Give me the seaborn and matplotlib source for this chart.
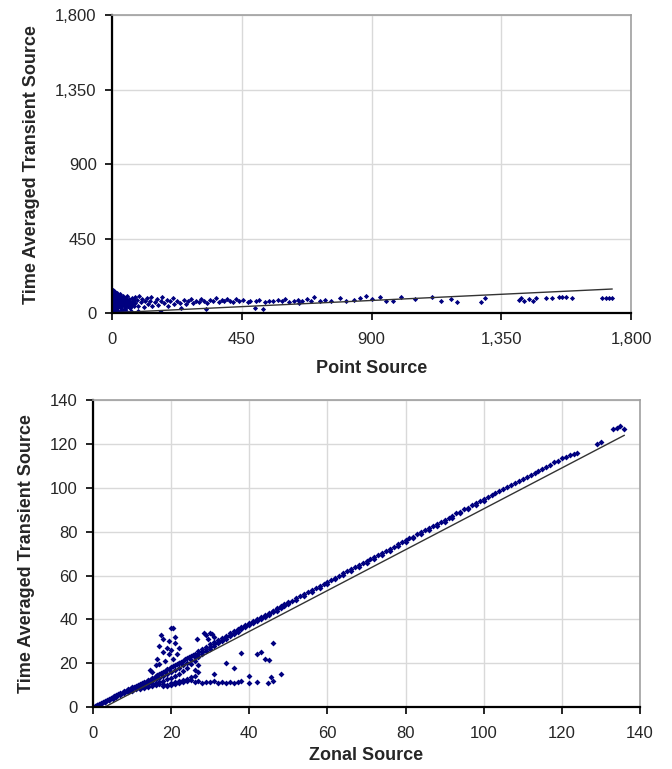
import numpy as np
import seaborn as sns
import matplotlib
matplotlib.use("Agg")
import matplotlib.pyplot as plt
import pandas as pd
from matplotlib.ticker import FuncFormatter

# ---------------- top panel: point source vs time averaged transient ----------------
point_x = [2, 3, 3, 4, 4, 5, 5, 6, 6, 7, 8, 8, 9, 10, 10, 11, 12, 12, 14, 15, 16, 18, 18, 20,
           22, 22, 24, 25, 27, 28, 30, 32, 33, 35, 36, 38, 40, 42, 44, 45, 48, 50, 52, 55, 57,
           60, 62, 65, 68, 70, 72, 75, 78, 80, 1, 6, 14, 26, 38, 52, 66,
           1, 1, 2, 2, 3, 4, 5, 6, 7, 9, 11, 13, 15, 17, 19, 21, 23, 26, 29, 31, 34, 37, 41,
           46, 49, 53, 58, 63, 67, 73, 77, 0, 1, 10, 20, 30, 40, 50, 90,
           85, 90, 95, 100, 105, 110, 115, 120, 125, 130, 135, 140, 150, 155, 160, 165, 170,
           170, 175, 180, 190, 195, 200, 210, 215, 225, 235, 240, 250, 255, 265, 275, 280,
           290, 300, 310, 320, 327, 330, 340, 350, 360, 370, 380, 390, 400,
           410, 420, 430, 440, 455, 470, 480, 495, 500, 510, 523, 530, 545, 560, 575, 590,
           600, 615, 630, 645, 650, 660, 675, 690, 700, 720, 740, 760, 790, 810, 840, 860,
           880, 900, 928, 950, 973, 1003,
           1050, 1111, 1142, 1177, 1197, 1280, 1294, 1412, 1420, 1430, 1445, 1460, 1471,
           1506, 1526, 1551, 1562, 1575, 1597, 1701, 1712, 1725, 1735]
point_y = [5, 20, 60, 100, 138, 120, 80, 40, 130, 110, 90, 20, 60, 125, 45, 100, 75, 15, 110, 55,
           90, 30, 120, 70, 100, 10, 50, 85, 115, 35, 65, 95, 20, 50, 80, 105, 40, 70, 90, 25,
           55, 80, 100, 45, 65, 85, 30, 60, 90, 50, 75, 40, 95, 60, 2, 8, 5, 6, 8, 4, 10,
           30, 70, 110, 50, 90, 10, 30, 70, 95, 35, 55, 85, 30, 65, 95, 40, 75, 60, 90, 30,
           70, 55, 85, 65, 35, 75, 55, 70, 40, 60, 80, 0, 10, 5, 3, 8, 10, 5, 10,
           80, 45, 100, 65, 85, 35, 70, 90, 55, 75, 95, 40, 65, 85, 50, 6, 75, 8, 95, 60,
           80, 45, 70, 90, 55, 75, 60, 30, 80, 55, 70, 85, 60, 75, 65, 85, 70, 24, 60, 80,
           70, 90, 65, 80, 70, 85,
           75, 65, 85, 70, 80, 65, 75, 30, 70, 80, 24, 65, 75, 70, 80, 70, 85, 65, 75, 80,
           60, 70, 85, 75, 95, 70, 80, 75, 90, 75, 80, 90, 105, 85, 97, 75, 72, 97,
           85, 97, 72, 85, 66, 66, 90, 80, 90, 75, 85, 70, 90, 88, 90, 97, 95, 97, 90, 90,
           92, 90, 88]
point_fit_x = [0, 1735]
point_fit_y = [1, 145]
point_ticks = [0, 450, 900, 1350, 1800]

# ---------------- bottom panel: zonal source vs time averaged transient ----------------
band_x = [0.5, 1, 1.5, 2, 2.5, 3, 3, 3.5, 4, 4, 4.5, 5, 5, 5.5, 6, 6, 6.5, 7, 7, 7.5, 8, 8,
          8.5, 9, 9, 9.5, 10, 10, 10.5, 11, 11, 11.5, 12, 12, 12.5, 13, 13, 13.5, 14, 14, 14.5,
          15, 15, 15.5, 16, 16, 16.5, 17, 17, 17.5, 18, 18, 18, 18.5, 19, 19, 19, 19.5, 20, 20,
          20, 20.5, 21, 21, 21, 21.5, 22, 22, 22, 22.5, 23, 23, 23, 23.5, 24, 24, 24, 24.5,
          25, 25, 25, 25.5, 26, 26, 27, 27, 28, 28, 29, 29, 30, 30, 31, 31, 32, 32, 33, 33,
          34, 34, 35, 35, 36, 36, 37, 37, 38, 38, 39, 39, 40, 40, 41, 41, 42, 42, 43, 43,
          44, 44, 45, 45, 46, 46, 47, 47, 48, 48, 49, 49, 50, 50, 52, 52, 54, 54, 56, 56,
          58, 58, 60, 60, 62, 62, 64, 64, 66, 66, 68, 68, 70, 70, 72, 72, 74, 74, 76, 76,
          78, 78, 80, 80, 82, 82, 84, 84, 86, 86, 88, 88, 90, 90, 92, 92, 94, 94, 96, 96,
          98, 98, 100, 100, 102, 103, 105, 106, 108, 110, 111, 113, 115, 117, 119, 120, 121,
          122, 124, 129, 134, 135, 136]
band_y = [0.5, 1, 1.2, 1.8, 2.2, 2.8, 2.2, 3.3, 3.5, 3, 4, 4.5, 3.8, 5, 5.4, 4.6, 5.8, 6.2,
          5.4, 6.6, 7.2, 6.2, 7.5, 8, 6.8, 8.4, 9, 7.4, 9.3, 9.8, 8, 10, 10.5, 8.6, 10.8, 11.4,
          9.2, 11.6, 12.2, 9.8, 12.5, 13.2, 10.4, 13.4, 14.2, 11, 14.5, 15.2, 11.5, 15.5, 16.2,
          12, 10.5, 16.5, 17.2, 12.6, 10.2, 17.5, 18.2, 13.4, 11, 18.6, 19.2, 14.2, 11.2, 19.6,
          20.2, 15, 12, 20.6, 21.2, 16.5, 12.5, 21.8, 22.2, 18, 13, 22.8, 23.3, 19.5, 13.5,
          23.8, 24.4, 21, 25.5, 22.6, 26.6, 24, 27.6, 25.4, 28.6, 26.6, 29.6, 27.8, 30.6, 29,
          31.6, 30, 32.6, 31.2, 33.6, 32.3, 34.6, 33.4, 35.6, 34.4, 36.5, 35.4, 37.4, 36.4,
          38.4, 37.3, 39.3, 38.3, 40.2, 39.3, 41.2, 40.3, 42.1, 41.2, 43, 42.2, 44, 43.2, 45,
          44, 46, 45, 47, 46, 47.8, 46.9, 49.6, 48.8, 51.5, 50.6, 53.4, 52.5, 55.3, 54.4, 57.2,
          56.3, 59, 58.2, 61, 60.1, 62.8, 62, 64.8, 63.9, 66.6, 65.8, 68.5, 67.6, 70.4, 69.5,
          72.3, 71.4, 74.2, 73.3, 76, 75.2, 77.8, 77, 79.8, 79, 81.6, 80.8, 83.5, 82.7, 85.4,
          84.6, 87.3, 86.4, 89.2, 88.3, 91, 90.2, 93, 92, 94.8, 94, 96.6, 97.6, 99.4, 100.3,
          102.2, 104, 105, 106.8, 108.6, 110.6, 112.4, 113.4, 114, 115, 115.8, 120, 127.5,
          128, 127]
band_mid_x = [1, 2, 3, 4, 5, 6, 7, 8, 9, 10, 11, 12, 13, 14, 15, 16, 17, 18, 19, 20, 21, 22,
              23, 24, 25, 26, 27, 28, 29, 30, 31, 32, 33, 34, 35, 36, 37, 38, 39, 40, 41, 42,
              43, 44, 45, 46, 47, 48, 49, 50, 51, 53, 55, 57, 59, 61, 63, 65, 67, 69, 71, 73,
              75, 77, 79, 81, 83, 85, 87, 89, 91, 93, 95, 97, 99, 101, 104, 107, 109, 112,
              114, 116, 118, 123, 130, 133,
              12, 13, 14, 15, 16, 17, 18, 19, 20, 21, 22, 23, 24, 25, 26, 26, 27, 27]
band_mid_y = [0.8, 1.6, 2.5, 3.3, 4.1, 5, 5.8, 6.7, 7.5, 8.2, 9, 9.6, 10.4, 11, 11.8, 12.6,
              13.4, 14.2, 15, 16, 17, 17.8, 19, 20.2, 21.4, 22.8, 24, 25.3, 26.5, 27.6, 28.7,
              29.8, 30.8, 31.9, 33, 34, 35, 36, 36.9, 37.8, 38.8, 39.7, 40.7, 41.6, 42.6, 43.6,
              44.5, 45.5, 46.5, 47.4, 48.6, 50.5, 52.4, 54.3, 56.2, 58.1, 60, 61.9, 63.8,
              65.7, 67.5, 69.4, 71.3, 73.2, 75.1, 77, 78.9, 80.7, 82.6, 84.5, 86.4, 88.3,
              90.2, 92.1, 94, 95.8, 98.6, 101.3, 103.2, 106, 107.8, 109.6, 111.6, 115.4, 121,
              127,
              8, 8.6, 9.2, 9.6, 10, 10.4, 9.8, 9.6, 10, 10.3, 10.8, 11.4, 11.8, 12.5, 14, 17,
              19, 16]
stray_x = [16.5, 17, 17.5, 18, 18, 18.5, 19, 19.5, 19.5, 20, 20.5, 20, 20.5, 21, 21, 21.5,
           22, 22, 16, 17, 15, 14.5,
           26.5, 28.5, 29, 29.5, 30, 30.5, 31,
           26, 27, 28, 29, 30, 31, 32, 33, 34, 35, 36, 37, 38, 40, 42, 44.8,
           31, 34, 38, 42, 43, 44, 45, 45.5, 46, 46, 48, 40, 36]
stray_y = [22, 28, 33, 31, 25, 21, 27, 24, 30, 36, 36, 26, 22, 29, 32, 24, 20, 27, 19, 19.5,
           16, 17,
           31, 34, 33, 31, 34, 33.5, 32,
           11.5, 11.8, 11, 11.5, 11.2, 12, 11, 11.3, 11, 11.5, 11, 11.2, 11.8, 11, 11.5, 11,
           15, 20, 24.5, 24, 25, 22, 21.5, 13.5, 12, 29, 15, 14, 18]
zonal_fit_x = [3, 136]
zonal_fit_y = [0, 124]
zonal_ticks = [0, 20, 40, 60, 80, 100, 120, 140]

point_df = pd.DataFrame({"Point Source": point_x, "Transient": point_y})
zonal_df = pd.DataFrame({"Zonal Source": band_x + band_mid_x + stray_x,
                         "Transient": band_y + band_mid_y + stray_y})

sns.set_style("white")
plt.rcParams['font.family'] = ['Liberation Sans', 'DejaVu Sans']

dot_color = "#000080"
fig = plt.figure(figsize=(6.72, 7.69), dpi=100)
ax1 = fig.add_axes([0.1667, 0.593, 0.7723, 0.387])
ax2 = fig.add_axes([0.1384, 0.0806, 0.814, 0.399])


def style_axes(ax, ticks, fmt):
    ax.set_xlim(ticks[0], ticks[-1])
    ax.set_ylim(ticks[0], ticks[-1])
    ax.set_xticks(ticks)
    ax.set_yticks(ticks)
    ax.xaxis.set_major_formatter(FuncFormatter(fmt))
    ax.yaxis.set_major_formatter(FuncFormatter(fmt))
    ax.grid(True, color="#d9d9d9", linewidth=1)
    ax.set_axisbelow(True)
    for side in ["left", "bottom"]:
        ax.spines[side].set_color("black")
        ax.spines[side].set_linewidth(1.6)
    for side in ["top", "right"]:
        ax.spines[side].set_color("#a0a0a0")
        ax.spines[side].set_linewidth(1.2)
    ax.tick_params(axis="both", direction="out", length=5, width=1.2, color="black",
                   labelsize=12, left=True, bottom=True)
    ax.tick_params(axis="x", pad=9)
    ax.tick_params(axis="y", pad=6)
    ax.set_ylabel("Time Averaged Transient Source", fontsize=13, fontweight="bold", labelpad=11)


sns.scatterplot(data=point_df, x="Point Source", y="Transient", ax=ax1, color=dot_color,
                marker="D", s=7, linewidth=0)
ax1.plot(point_fit_x, point_fit_y, color="#333333", linewidth=1)
style_axes(ax1, point_ticks, lambda v, p: f"{int(v):,}")
ax1.set_xlabel("Point Source", fontsize=13, fontweight="bold", labelpad=9)

sns.scatterplot(data=zonal_df, x="Zonal Source", y="Transient", ax=ax2, color=dot_color,
                marker="D", s=9, linewidth=0)
ax2.plot(zonal_fit_x, zonal_fit_y, color="#333333", linewidth=1)
style_axes(ax2, zonal_ticks, lambda v, p: f"{int(v)}")
ax2.set_xlabel("Zonal Source", fontsize=13, fontweight="bold", labelpad=4)

fig.savefig("out.png", dpi=100)
